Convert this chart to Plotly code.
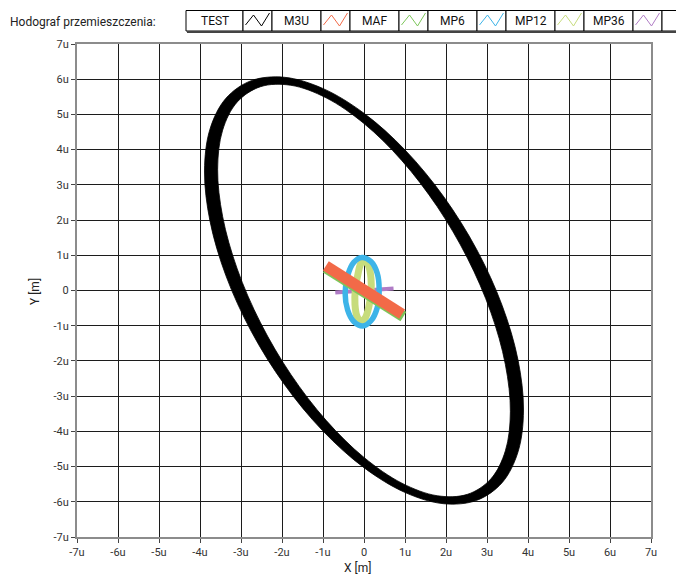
import plotly.graph_objects as go

# ---------------- data (micrometres) ----------------
# TEST: thick displacement loop, outer and inner edge of the band (clockwise)
TEST_OUTER_X = [3.890, 3.757, 3.369, 2.751, 1.945, 1.007, 0.000, -1.007, -1.945, -2.751, -3.369, -3.757,
                -3.890, -3.757, -3.369, -2.751, -1.945, -1.007, 0.000, 1.007, 1.945, 2.751, 3.369, 3.757]
TEST_OUTER_Y = [-3.394, -4.581, -5.456, -5.958, -6.055, -5.739, -5.032, -3.983, -2.661, -1.158, 0.424, 1.976,
                3.394, 4.581, 5.456, 5.958, 6.055, 5.739, 5.032, 3.983, 2.661, 1.158, -0.424, -1.976]
TEST_INNER_X = [3.570, 3.448, 3.092, 2.524, 1.785, 0.924, 0.000, -0.924, -1.785, -2.524, -3.092, -3.448,
                -3.570, -3.448, -3.092, -2.524, -1.785, -0.924, 0.000, 0.924, 1.785, 2.524, 3.092, 3.448]
TEST_INNER_Y = [-3.444, -4.554, -5.353, -5.788, -5.828, -5.471, -4.741, -3.688, -2.383, -0.917, 0.612, 2.100,
                3.444, 4.554, 5.353, 5.788, 5.828, 5.471, 4.741, 3.688, 2.383, 0.917, -0.612, -2.100]

# M3U and MAF: flat diagonal hodographs
M3U_X = [-0.93, 0.93]
M3U_Y = [0.70, -0.67]
MAF_X = [-0.93, 0.96]
MAF_Y = [0.64, -0.74]

# MP6: narrow upright loop
MP6_X = [-0.05, 0.17, 0.32, 0.37, 0.32, 0.17, -0.03, -0.25, -0.40, -0.46, -0.40, -0.25, -0.05]
MP6_Y = [0.94, 0.82, 0.50, 0.02, -0.50, -0.86, -1.01, -0.88, -0.55, -0.08, 0.42, 0.80, 0.94]

# MP12: thinner upright loop inside MP6
MP12_X = [0.00, 0.11, 0.17, 0.17, 0.12, 0.03, -0.07, -0.17, -0.22, -0.21, -0.15, -0.08, 0.00]
MP12_Y = [0.86, 0.70, 0.35, -0.05, -0.45, -0.78, -0.88, -0.74, -0.40, 0.05, 0.45, 0.76, 0.86]

# MP36: short near-horizontal trace
MP36_X = [-0.70, 0.72]
MP36_Y = [-0.06, 0.06]

SERIES_NAMES = ["TEST", "M3U", "MAF", "MP6", "MP12", "MP36"]
SERIES_COLORS = ["#000000", "#F26A48", "#7CC65A", "#3DB4E8", "#C7DC7C", "#B07CC6"]

TICK_VALUES = list(range(-7, 8))
TICK_LABELS = ["-7u", "-6u", "-5u", "-4u", "-3u", "-2u", "-1u", "0",
               "1u", "2u", "3u", "4u", "5u", "6u", "7u"]

# ---------------- geometry ----------------
W, H = 676, 578
L, R, T, B = 77, 651, 44, 537
FONT = "Liberation Sans Narrow, Roboto, Arial, sans-serif"


def px_x(px):
    return (px - L) / (R - L)


def px_y(py):
    return (B - py) / (B - T)


def band(ox, oy, ix, iy):
    """Outer loop plus reversed inner loop -> filled ring with a hole."""
    rx, ry = ix[::-1], iy[::-1]
    xs = list(ox) + [ox[0], None] + list(rx) + [rx[0]]
    ys = list(oy) + [oy[0], None] + list(ry) + [ry[0]]
    return xs, ys


col = dict(zip(SERIES_NAMES, SERIES_COLORS))
fig = go.Figure()

# drawn back to front
fig.add_trace(go.Scatter(x=MP36_X, y=MP36_Y, mode="lines", name="MP36",
                         line=dict(color=col["MP36"], width=4)))

fig.add_trace(go.Scatter(x=MP12_X, y=MP12_Y, mode="lines", name="MP12",
                         line=dict(color=col["MP12"], width=7, shape="spline")))

fig.add_trace(go.Scatter(x=MP6_X, y=MP6_Y, mode="lines", name="MP6",
                         line=dict(color=col["MP6"], width=5.5, shape="spline")))

fig.add_trace(go.Scatter(x=MAF_X, y=MAF_Y, mode="lines", name="MAF",
                         line=dict(color=col["MAF"], width=11)))
fig.add_trace(go.Scatter(x=M3U_X, y=M3U_Y, mode="lines", name="M3U",
                         line=dict(color=col["M3U"], width=11)))

tx, ty = band(TEST_OUTER_X, TEST_OUTER_Y, TEST_INNER_X, TEST_INNER_Y)
fig.add_trace(go.Scatter(x=tx, y=ty, mode="lines", name="TEST", fill="toself",
                         fillcolor=col["TEST"],
                         line=dict(color=col["TEST"], width=0.8, shape="spline")))

axis_common = dict(
    range=[-7, 7], tickmode="array", tickvals=TICK_VALUES, ticktext=TICK_LABELS,
    showgrid=True, gridcolor="#1c1c1c", gridwidth=1, zeroline=False,
    showline=True, linecolor="#8c8c8c", linewidth=2, mirror=True,
    ticks="outside", ticklen=4, tickcolor="#444444", tickwidth=1,
    tickfont=dict(family=FONT, size=11, color="#333333"),
)
fig.update_xaxes(**axis_common)
fig.update_yaxes(**axis_common)

shapes = []
annotations = []

# ---------------- legend strip ----------------
top, bot = 10.5, 31
x = 186
cells = []
for i, name in enumerate(SERIES_NAMES):
    w = 57 if i == 0 else 49
    cells.append(("text", x, x + w, name, None))
    x += w
    cells.append(("icon", x, x + 29, None, SERIES_COLORS[i]))
    x += 29
cells.append(("text", x, 700, "", None))

for kind, x0, x1, name, c in cells:
    shapes.append(dict(type="rect", xref="paper", yref="paper",
                       x0=px_x(x0), x1=px_x(x1), y0=px_y(bot), y1=px_y(top),
                       line=dict(color="#000000", width=1), fillcolor="white", layer="above"))
    if kind == "text":
        annotations.append(dict(xref="paper", yref="paper", x=px_x((x0 + x1) / 2), y=px_y(21),
                                text=name, showarrow=False, xanchor="center", yanchor="middle",
                                font=dict(family=FONT, size=12, color="#111111")))
    else:
        pts = [(x0 + 2.5, 25), (x0 + 10.5, 15), (x0 + 18.5, 26), (x0 + 26.5, 13)]
        path = "M " + " L ".join(f"{px_x(a):.5f},{px_y(b):.5f}" for a, b in pts)
        shapes.append(dict(type="path", xref="paper", yref="paper", path=path,
                           line=dict(color=c, width=1), layer="above"))

# shadow under the legend strip
shapes.append(dict(type="line", xref="paper", yref="paper",
                   x0=px_x(187), x1=px_x(700), y0=px_y(32), y1=px_y(32),
                   line=dict(color="#444444", width=2), layer="above"))

annotations += [
    dict(xref="paper", yref="paper", x=px_x(8), y=px_y(22), text="Hodograf przemieszczenia:",
         showarrow=False, xanchor="left", yanchor="middle",
         font=dict(family=FONT, size=12, color="#222222")),
    dict(xref="paper", yref="paper", x=px_x(357), y=px_y(568), text="X [m]",
         showarrow=False, xanchor="center", yanchor="middle",
         font=dict(family=FONT, size=12, color="#222222")),
    dict(xref="paper", yref="paper", x=px_x(35), y=px_y(292), text="Y [m]", textangle=-90,
         showarrow=False, xanchor="center", yanchor="middle",
         font=dict(family=FONT, size=12, color="#222222")),
]

fig.update_layout(
    width=W, height=H, autosize=False,
    margin=dict(l=L, r=W - R, t=T, b=H - B, pad=0),
    paper_bgcolor="white", plot_bgcolor="white",
    showlegend=False, shapes=shapes, annotations=annotations,
)

fig.write_html("out.html", config={"displayModeBar": False})
